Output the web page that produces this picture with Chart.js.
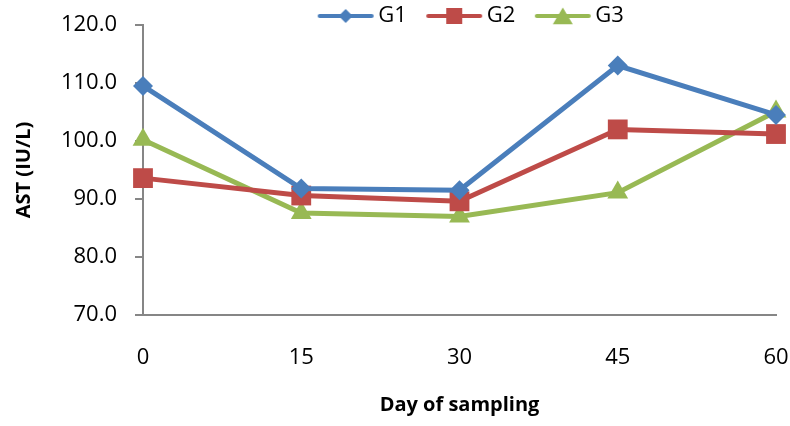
<!DOCTYPE html>
<html lang="en">
<head>
    <meta charset="UTF-8">
    <title>AST by day of sampling</title>
    <script src="https://cdn.jsdelivr.net/npm/chart.js"></script>
    <style>
        body {
            margin: 0;
            padding: 0;
            background-color: #fff;
        }

        .chart-container {
            position: relative;
            width: 790px;
            height: 426px;
        }
    </style>
</head>
<body>
    <div class="chart-container">
        <canvas id="myChart"></canvas>
    </div>
    <script>
        // Data
        const days = ['0', '15', '30', '45', '60'];
        const g1 = [109.5, 91.8, 91.5, 113.0, 104.5];
        const g2 = [93.6, 90.6, 89.6, 102.0, 101.2];
        const g3 = [100.2, 87.6, 87.0, 91.1, 105.1];
        const yTicks = [70, 80, 90, 100, 110, 120];

        const FONT = "'Open Sans', 'Noto Sans', sans-serif";

        function drawMarker(ctx, style, cx, cy, r, color) {
            ctx.fillStyle = color;
            ctx.beginPath();
            if (style === 'rectRot') {
                ctx.moveTo(cx, cy - r);
                ctx.lineTo(cx + r, cy);
                ctx.lineTo(cx, cy + r);
                ctx.lineTo(cx - r, cy);
            } else if (style === 'rect') {
                ctx.rect(cx - r, cy - r, 2 * r, 2 * r);
            } else {
                ctx.moveTo(cx, cy - r);
                ctx.lineTo(cx + r * 1.05, cy + r * 0.75);
                ctx.lineTo(cx - r * 1.05, cy + r * 0.75);
            }
            ctx.closePath();
            ctx.fill();
        }

        // legend symbol: short line with the marker in the middle
        // (canvas is wider than the box so the line sits close to the text)
        const legendMarkerSize = { rectRot: 7, rect: 8, triangle: 9.5 };
        function legendIcon(style, color) {
            const c = document.createElement('canvas');
            c.width = 76;
            c.height = 22;
            const ctx = c.getContext('2d');
            ctx.strokeStyle = color;
            ctx.lineWidth = 4;
            ctx.lineCap = 'round';
            ctx.beginPath();
            ctx.moveTo(15, 11);
            ctx.lineTo(67, 11);
            ctx.stroke();
            drawMarker(ctx, style, 41, style === 'triangle' ? 12 : 11, legendMarkerSize[style], color);
            return c;
        }

        const series = [
            { label: 'G1', data: g1, color: '#4A7EBB', style: 'rectRot', radius: 10 },
            { label: 'G2', data: g2, color: '#BE4B48', style: 'rect', radius: 14 },
            { label: 'G3', data: g3, color: '#98B954', style: 'triangle', radius: 12 }
        ];

        // the legend in the original is off-centre and sits close to the plot top
        const legendCenterX = 471;
        const legendLift = 15;
        const shiftLegend = {
            id: 'shiftLegend',
            afterLayout(chart) {
                const lg = chart.legend;
                const dx = legendCenterX - (lg.left + lg.right) / 2;
                lg.left += dx;
                lg.right += dx;
                lg.top -= legendLift;
                lg.bottom += 5;
            }
        };

        const ctx = document.getElementById('myChart').getContext('2d');
        const myChart = new Chart(ctx, {
            type: 'line',
            data: {
                labels: days,
                datasets: series.map(s => ({
                    label: s.label,
                    data: s.data,
                    borderColor: s.color,
                    backgroundColor: s.color,
                    borderWidth: 5,
                    pointStyle: s.style,
                    pointRadius: s.radius,
                    pointBorderWidth: 0,
                    pointBackgroundColor: s.color,
                    tension: 0,
                    fill: false
                }))
            },
            plugins: [shiftLegend],
            options: {
                responsive: true,
                maintainAspectRatio: false,
                animation: false,
                layout: {
                    padding: { top: 0, right: 0, bottom: 9, left: 12 }
                },
                scales: {
                    x: {
                        offset: false,
                        grid: { display: false },
                        border: { display: true, color: '#868686', width: 2 },
                        ticks: {
                            color: '#000',
                            padding: 22,
                            maxRotation: 0,
                            font: { family: FONT, size: 22 }
                        },
                        title: {
                            display: true,
                            text: 'Day of sampling',
                            color: '#000',
                            padding: { top: 12, bottom: 0 },
                            font: { family: FONT, size: 20, weight: 'bold' }
                        },
                        afterFit: function(scale) {
                            scale.height = 102;
                            scale.paddingRight = 14;
                        }
                    },
                    y: {
                        min: yTicks[0],
                        max: yTicks[yTicks.length - 1],
                        afterBuildTicks: function(scale) {
                            scale.ticks = yTicks.map(v => ({ value: v }));
                        },
                        grid: {
                            display: true,
                            drawOnChartArea: false,
                            drawTicks: true,
                            tickLength: 8,
                            color: '#868686',
                            lineWidth: 2
                        },
                        border: { display: true, color: '#868686', width: 2 },
                        ticks: {
                            color: '#000',
                            padding: 18,
                            font: { family: FONT, size: 22 },
                            callback: function(value) {
                                return Number(value).toFixed(1);
                            }
                        },
                        title: {
                            display: true,
                            text: 'AST (IU/L)',
                            color: '#000',
                            padding: 0,
                            font: { family: FONT, size: 20, weight: 'bold' }
                        },
                        afterFit: function(scale) {
                            scale.width = 131;
                            scale.paddingTop = 0;
                            scale.paddingBottom = 0;
                        }
                    }
                },
                plugins: {
                    legend: {
                        display: true,
                        position: 'top',
                        align: 'center',
                        maxHeight: 25,
                        labels: {
                            color: '#000',
                            usePointStyle: true,
                            pointStyleWidth: 49,
                            boxHeight: 20,
                            padding: 20,
                            font: { family: FONT, size: 22 },
                            generateLabels: function(chart) {
                                return series.map((s, i) => ({
                                    text: s.label,
                                    fillStyle: s.color,
                                    strokeStyle: s.color,
                                    lineWidth: 0,
                                    pointStyle: legendIcon(s.style, s.color),
                                    datasetIndex: i,
                                    hidden: false,
                                    fontColor: '#000'
                                }));
                            }
                        }
                    },
                    tooltip: { enabled: false }
                }
            }
        });
    </script>
</body>
</html>
